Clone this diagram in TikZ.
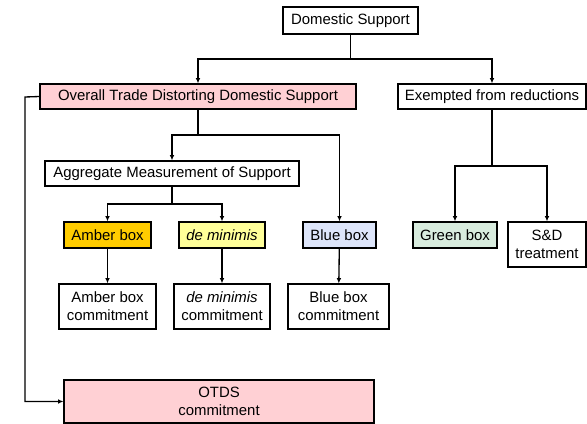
\documentclass[tikz,border=0pt]{standalone}
\usepackage{fontspec}
\setmainfont{Liberation Sans}
\usepackage{tikz}
\usetikzlibrary{arrows.meta}

\definecolor{otdspink}{RGB}{255,208,212}
\definecolor{amberfill}{RGB}{255,204,0}
\definecolor{deminfill}{RGB}{255,255,153}
\definecolor{bluefill}{RGB}{221,229,250}
\definecolor{greenfill}{RGB}{216,236,222}
\newcommand\boxfont{\fontsize{11.2}{13.3}\selectfont}

\begin{document}
\begin{tikzpicture}[x=0.75pt,y=-0.75pt,
  box/.style={draw,line width=0.8pt,inner sep=0pt,align=center,font=\boxfont},
  conn/.style={line width=1pt},
  arr/.style={conn,-{Latex[length=4pt,width=3.5pt]}}]
\useasboundingbox (0,0) rectangle (587,424);

\node[box,minimum width=101.25pt,minimum height=20.25pt] (dom) at (350.5,20.5) {Domestic Support};
\node[box,fill=otdspink,minimum width=237pt,minimum height=18.75pt] (otds) at (198,96.5) {Overall Trade Distorting Domestic Support};
\node[box,minimum width=141pt,minimum height=18.75pt] (exem) at (492,96.5) {Exempted from reductions};
\node[box,minimum width=190.5pt,minimum height=18.75pt] (ams) at (172,173.5) {Aggregate Measurement of Support};

\node[box,fill=amberfill,minimum width=65.25pt,minimum height=19.5pt] (amber) at (107.5,235) {Amber box};
\node[box,fill=deminfill,minimum width=64.5pt,minimum height=19.5pt] (demin) at (222,235) {\itshape de minimis};
\node[box,fill=bluefill,minimum width=54.75pt,minimum height=19.5pt] (blue) at (339.5,235) {Blue box};
\node[box,fill=greenfill,minimum width=63pt,minimum height=19.5pt] (green) at (455,235) {Green box};
\node[box,minimum width=58.5pt,minimum height=33.75pt] (sd) at (547,244.5) {S\&D\\treatment};

\node[box,minimum width=72.75pt,minimum height=33.75pt] (amberc) at (107.5,306.5) {Amber box\\commitment};
\node[box,minimum width=72pt,minimum height=33.75pt] (deminc) at (222,306.5) {\textit{de minimis}\\commitment};
\node[box,minimum width=75.75pt,minimum height=33.75pt] (bluec) at (338.5,306.5) {Blue box\\commitment};
\node[box,fill=otdspink,minimum width=232.5pt,minimum height=32.25pt] (otdsc) at (219,401.5) {OTDS\\commitment};

\coordinate (domsplit) at (350.5,59);
\coordinate (otdssplit) at (198,135);
\coordinate (amssplit) at (172,204);
\coordinate (exemsplit) at (492,166);
\coordinate (leftbend) at (25,97);

\draw[conn] (dom) -- (domsplit);
\draw[arr] (domsplit) -| (otds);
\draw[arr] (domsplit) -| (exem);

\draw[conn] (otds) -- (otdssplit);
\draw[arr] (otdssplit) -| (ams);
\draw[arr] (otdssplit) -| (blue);

\draw[conn] (ams) -- (amssplit);
\draw[arr] (amssplit) -| (amber);
\draw[arr] (amssplit) -| (demin);

\draw[conn] (exem) -- (exemsplit);
\draw[arr] (exemsplit) -| (green);
\draw[arr] (exemsplit) -| (sd);

\foreach \x in {amber,demin,blue}
  \draw[arr] (\x) -- (\x c);

\draw[arr] (otds.west) -- (leftbend) |- (otdsc);

\end{tikzpicture}
\end{document}
